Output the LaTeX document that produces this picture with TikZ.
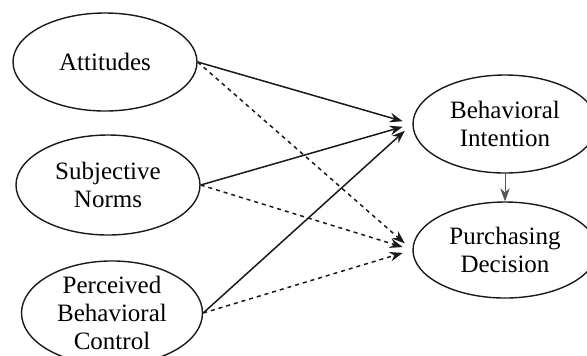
\documentclass[tikz,border=0pt]{standalone}
\usepackage{fontspec}
\setmainfont{Liberation Serif}
\usepackage{xcolor}
\usetikzlibrary{arrows.meta,shapes.geometric}
\definecolor{ink}{HTML}{1A1A1A}
\definecolor{soft}{HTML}{555555}
\tikzset{
  construct/.style={ellipse, draw=ink, line width=0.7pt, inner sep=0pt, align=center,
    minimum width=92pt, minimum height=49pt, font=\fontsize{12.5pt}{14pt}\selectfont},
  path/.style={draw=ink, line width=0.75pt, -{Stealth[length=6.5pt,width=4.8pt]}, shorten >=5pt},
  pathd/.style={path, dash pattern=on 2pt off 2pt},
  link/.style={draw=soft, line width=0.45pt, -{Stealth[length=6.5pt,width=4.8pt]}},
}

\begin{document}
\begin{tikzpicture}[x=0.5pt,y=-0.5pt]
  \useasboundingbox (0,0) rectangle (587,355);
  \node[construct] (att) at (105,62) {Attitudes};
  \node[construct, minimum height=50pt] (sn) at (108,185) {Subjective\\Norms};
  \node[construct, minimum width=90.5pt, minimum height=52pt] (pbc) at (112,313) {Perceived\\Behavioral\\Control};
  \node[construct] (bi) at (505,124) {Behavioral\\Intention};
  \node[construct, minimum height=48pt] (pd) at (505,250) {Purchasing\\Decision};

  % direct effects on intention
  \draw[path] (att.east) -- (bi.west);
  \draw[path] (sn.east) -- (bi.west);
  \draw[path] (pbc.east) -- (bi.west);

  % direct effects on decision
  \draw[pathd] (att.east) -- (pd.west);
  \draw[pathd] (sn.east) -- (pd.west);
  \draw[pathd] (pbc.east) -- (pd.west);

  \draw[link] (bi.south) -- (pd.north);
\end{tikzpicture}
\end{document}
